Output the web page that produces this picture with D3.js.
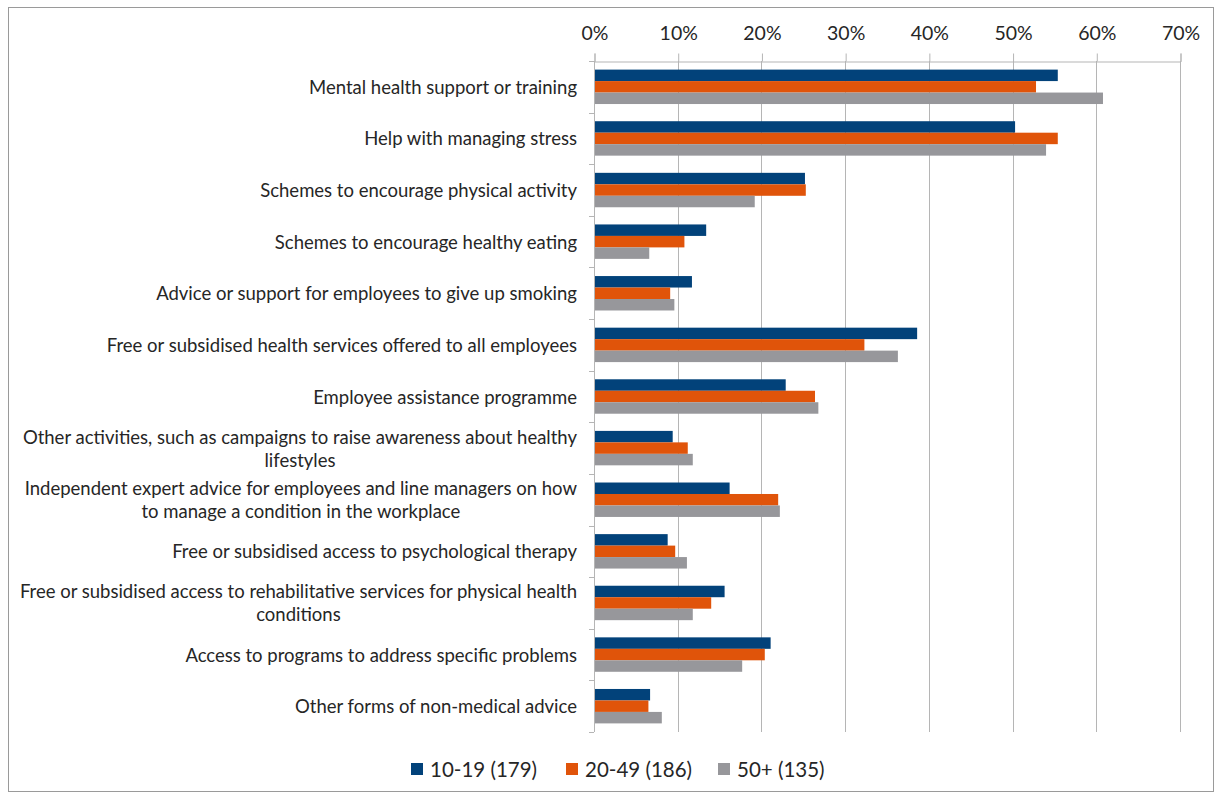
<!DOCTYPE html>
<html>
<head>
<meta charset="utf-8">
<script src="https://cdn.jsdelivr.net/npm/d3@7"></script>
<style>
  html, body { margin: 0; padding: 0; background: #fff; }
  svg { display: block; }
  text { font-family: Lato, "Open Sans", sans-serif; fill: #262626; }
</style>
</head>
<body>
<svg id="chart" width="1215" height="794"></svg>
<script>
// Workplace health support offered, by organisation size (share of employers)
const categories = [
  "Mental health support or training",
  "Help with managing stress",
  "Schemes to encourage physical activity",
  "Schemes to encourage healthy eating",
  "Advice or support for employees to give up smoking",
  "Free or subsidised health services offered to all employees",
  "Employee assistance programme",
  "Other activities, such as campaigns to raise awareness about healthy lifestyles",
  "Independent expert advice for employees and line managers on how to manage a condition in the workplace",
  "Free or subsidised access to psychological therapy",
  "Free or subsidised access to rehabilitative services for physical health conditions",
  "Access to programs to address specific problems",
  "Other forms of non-medical advice"
];

const seriesNames = ["10-19 (179)", "20-49 (186)", "50+ (135)"];
const seriesColors = ["#02427a", "#e0540a", "#97979b"];

const small  = [55.4, 50.3, 25.2, 13.4, 11.7, 38.6, 22.9, 9.4, 16.2, 8.8, 15.6, 21.1, 6.7];
const medium = [52.8, 55.4, 25.3, 10.8, 9.1, 32.3, 26.4, 11.2, 22.0, 9.7, 14.0, 20.4, 6.5];
const large  = [60.8, 54.0, 19.2, 6.6, 9.6, 36.3, 26.8, 11.8, 22.2, 11.1, 11.8, 17.7, 8.1];

const tickValues = [0, 10, 20, 30, 40, 50, 60, 70];

const seriesValues = [small, medium, large];

const svg = d3.select("#chart");
const W = 1215, H = 794;

// outer frame
svg.append("rect")
  .attr("x", 8.5).attr("y", 7.5)
  .attr("width", W - 10).attr("height", H - 10)
  .attr("fill", "#fff").attr("stroke", "#9a9a9a").attr("stroke-width", 1);

const plot = { left: 594, right: 1180, top: 61, bottom: 732 };

const x = d3.scaleLinear().domain([0, 70]).range([plot.left, plot.right]);
const y = d3.scaleBand().domain(categories)
  .range([plot.top, plot.bottom])
  .paddingInner(0.333).paddingOuter(0.1667);
const ySub = d3.scaleBand().domain(d3.range(seriesNames.length))
  .range([0, y.bandwidth()]);

// vertical gridlines
svg.append("g").selectAll("line")
  .data(tickValues.filter(d => d > 0))
  .join("line")
  .attr("x1", d => Math.round(x(d)) + 0.5).attr("x2", d => Math.round(x(d)) + 0.5)
  .attr("y1", plot.top).attr("y2", plot.bottom)
  .attr("stroke", "#b5b5b5").attr("stroke-width", 1);

// top axis
const xAxis = d3.axisTop(x)
  .tickValues(tickValues)
  .tickFormat(d => d + "%")
  .tickSize(8)
  .tickPadding(14);
const gx = svg.append("g")
  .attr("transform", `translate(0.5,${plot.top + 0.5})`)
  .call(xAxis);
gx.select(".domain").attr("stroke", "#b5b5b5");
gx.selectAll(".tick line").attr("stroke", "#b5b5b5");
gx.selectAll(".tick text")
  .style("font-family", "Lato, sans-serif")
  .style("font-size", "19.5px")
  .attr("fill", "#262626");

// bars
const groups = svg.append("g").selectAll("g")
  .data(categories)
  .join("g")
  .attr("transform", d => `translate(0,${y(d)})`);

groups.selectAll("rect")
  .data((d, i) => seriesValues.map((vals, s) => ({ s, v: vals[i] })))
  .join("rect")
  .attr("x", x(0))
  .attr("y", d => ySub(d.s))
  .attr("width", d => x(d.v) - x(0))
  .attr("height", ySub.bandwidth())
  .attr("fill", d => seriesColors[d.s]);

// left category axis with ticks between categories
const step = y.step();
const boundaries = d3.range(categories.length + 1).map(i => plot.top + i * step);
svg.append("line")
  .attr("x1", plot.left + 0.5).attr("x2", plot.left + 0.5)
  .attr("y1", plot.top).attr("y2", plot.bottom)
  .attr("stroke", "#b5b5b5");
svg.append("g").selectAll("line")
  .data(boundaries)
  .join("line")
  .attr("x1", plot.left - 5).attr("x2", plot.left)
  .attr("y1", d => Math.round(d) + 0.5).attr("y2", d => Math.round(d) + 0.5)
  .attr("stroke", "#b5b5b5");

// category labels, wrapped and centred within a right-aligned block
const labelRight = 577;
const maxLabelWidth = 560;
const lineH = 23;
const labelG = svg.append("g")
  .style("font-size", "18.5px");

const measure = labelG.append("text").attr("x", -1000).attr("y", -1000);
function widthOf(s) { measure.text(s); return measure.node().getComputedTextLength(); }

function wrap(label) {
  const words = label.split(" ");
  const lines = [];
  let cur = "";
  for (const w of words) {
    const t = cur ? cur + " " + w : w;
    if (widthOf(t) > maxLabelWidth && cur) { lines.push(cur); cur = w; }
    else cur = t;
  }
  if (cur) lines.push(cur);
  return lines;
}

categories.forEach(c => {
  const lines = wrap(c);
  const blockW = d3.max(lines, widthOf);
  const cx = labelRight - blockW / 2;
  const cy = y(c) + y.bandwidth() / 2;
  const t = labelG.append("text")
    .attr("text-anchor", "middle")
    .attr("dominant-baseline", "central");
  lines.forEach((ln, i) => {
    t.append("tspan")
      .attr("x", cx)
      .attr("y", cy + (i - (lines.length - 1) / 2) * lineH)
      .text(ln);
  });
});
measure.remove();

// legend
const legend = svg.append("g").style("font-size", "20.5px");
const legendY = 769;
const legendX = [411, 566, 718];
seriesNames.forEach((name, i) => {
  legend.append("rect")
    .attr("x", legendX[i]).attr("y", legendY - 6)
    .attr("width", 12).attr("height", 12)
    .attr("fill", seriesColors[i]);
  legend.append("text")
    .attr("x", legendX[i] + 19).attr("y", legendY)
    .attr("dominant-baseline", "central")
    .text(name);
});
</script>
</body>
</html>
